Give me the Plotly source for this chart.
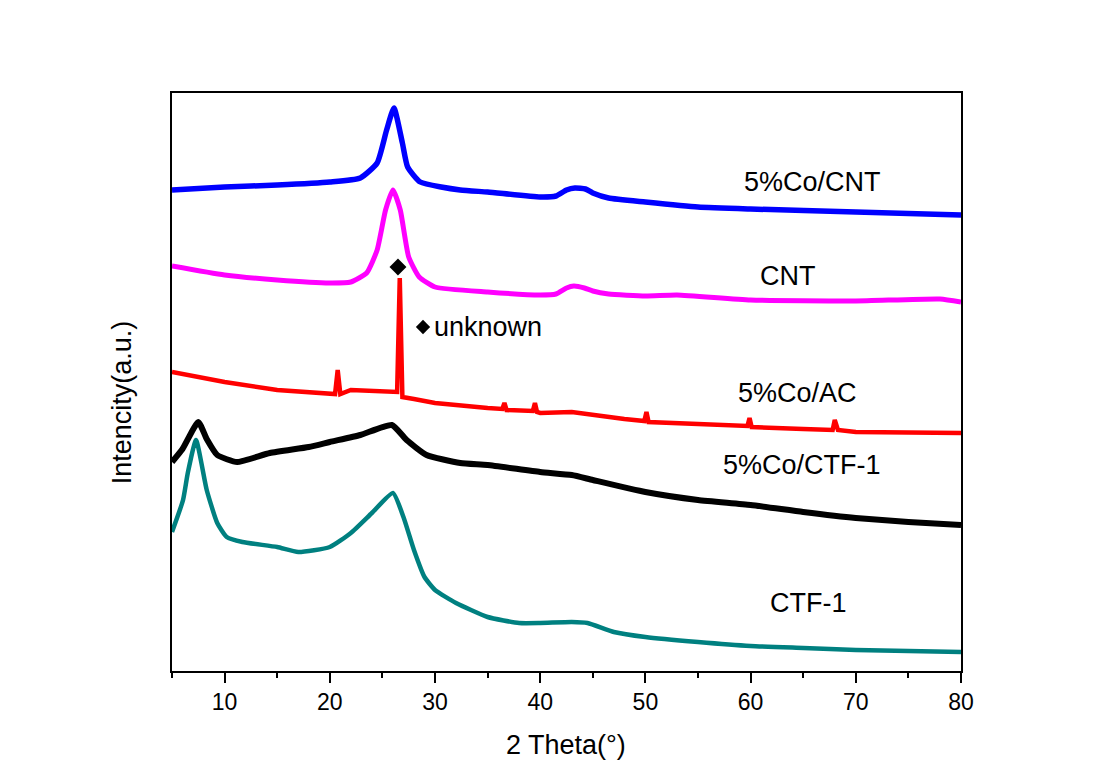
import plotly.graph_objects as go

# ---- data (2θ in degrees, intensity in a.u. with vertical offsets) ----
co_cnt_theta = [5, 10, 15, 20, 22.9, 24.5, 25.4, 26.1, 26.9, 27.4, 28.6, 32.4, 35, 40, 41.5, 42.5, 43.3, 44.3, 45, 46.5, 50, 55, 60, 70, 80]
co_cnt_int = [481, 484, 486, 489, 493, 508, 541, 563, 528, 504, 489, 481, 479, 474, 475, 481, 483, 482, 478, 473, 469, 464, 462, 459, 456]

cnt_theta = [5, 10, 15, 20, 22, 23.5, 24.5, 25.3, 26, 26.7, 27.5, 28.5, 30, 35, 40, 41.5, 42.5, 43.2, 44.2, 45, 46.5, 50, 53, 60, 70, 78, 80]
cnt_int = [405, 396, 391, 388, 389, 398, 421, 461, 481, 461, 414, 394, 384, 379, 376, 377, 383, 385, 383, 380, 377, 375, 376, 371, 370, 372, 369]

co_ac_theta = [5, 8, 10, 15, 20, 20.5, 20.75, 21.0, 22, 24, 26.4, 26.65, 26.9, 28, 30, 35, 36.4, 36.6, 36.8,
               39.3, 39.5, 39.7, 40, 43, 45, 48, 49.9, 50.1, 50.3, 55, 59.7, 59.9, 60.1, 65, 67.8, 68.0, 68.3, 70, 75, 80]
co_ac_int = [299, 293, 289, 281, 278, 277, 301, 277, 281, 280, 279, 393, 274, 272, 268, 263, 262, 268, 261,
             260, 268, 259, 258, 259, 256, 252, 250, 259, 249, 247, 245, 253, 244, 242, 241, 251, 241, 239, 238, 238]

co_ctf_theta = [5, 6, 7.5, 8.3, 9.3, 11.2, 14.3, 18, 20, 22.9, 25.9, 27.3, 29.2, 32.4, 35, 40, 43, 45, 50, 55, 60, 65, 70, 75, 80]
co_ctf_int = [209, 222, 249, 232, 216, 209, 218, 224, 229, 236, 246, 231, 216, 208, 206, 199, 196, 191, 179, 171, 166, 159, 153, 149, 146]

ctf_theta = [5, 6.05, 6.5, 7.28, 8.3, 9.3, 10.2, 11.7, 15, 17, 20, 22, 24, 26, 27, 28, 29, 30, 32, 35, 38, 40, 43, 44.5, 47, 50, 55, 60, 65, 70, 80]
ctf_int = [139, 171, 198, 231, 181, 148, 134, 129, 124, 119, 124, 138, 158, 178, 154, 121, 94, 81, 68, 54, 48, 48, 49, 48, 39, 34, 29, 25, 23, 21, 19]

series_names = ["5%Co/CNT", "CNT", "5%Co/AC", "5%Co/CTF-1", "CTF-1"]
label_theta = [65.9, 63.6, 64.5, 64.9, 65.5]
label_int = [489, 395, 278, 206, 68]

marker_theta = [26.48]
marker_int = [404]
legend_marker_theta = [28.86]
legend_marker_int = [344]
legend_text = "unknown"

x_ticks = [10, 20, 30, 40, 50, 60, 70, 80]

FONT = "Liberation Sans, Arial, sans-serif"

fig = go.Figure()

traces = [
    (co_cnt_theta, co_cnt_int, "#0000FF", 5.5, "spline"),
    (cnt_theta, cnt_int, "#FF00FF", 5.0, "spline"),
    (co_ac_theta, co_ac_int, "#FF0000", 4.5, "linear"),
    (co_ctf_theta, co_ctf_int, "#000000", 6.0, "spline"),
    (ctf_theta, ctf_int, "#008080", 4.5, "spline"),
]
for (xs, ys, col, w, shp), name in zip(traces, series_names):
    fig.add_trace(go.Scatter(x=xs, y=ys, mode="lines", name=name,
                             line=dict(color=col, width=w, shape=shp, smoothing=0.5)))

fig.add_trace(go.Scatter(x=marker_theta, y=marker_int, mode="markers",
                         marker=dict(symbol="diamond", size=13, color="black"), showlegend=False))
fig.add_trace(go.Scatter(x=legend_marker_theta, y=legend_marker_int, mode="markers",
                         marker=dict(symbol="diamond", size=11, color="black"), showlegend=False))

for name, lx, ly in zip(series_names, label_theta, label_int):
    fig.add_annotation(x=lx, y=ly, text=name, showarrow=False, xanchor="center", yanchor="middle",
                       font=dict(family=FONT, size=27, color="black"))

fig.add_annotation(x=legend_marker_theta[0] + 0.9, y=legend_marker_int[0], text=legend_text,
                   showarrow=False, xanchor="left", yanchor="middle",
                   font=dict(family=FONT, size=27, color="black"))

# axis titles
fig.add_annotation(xref="paper", yref="paper", x=0.4994, y=-0.128, text="2 Theta(°)",
                   xanchor="center", yanchor="middle",
                   showarrow=False, font=dict(family=FONT, size=27, color="black"))
fig.add_annotation(xref="paper", yref="paper", x=-0.0634, y=0.465, text="Intencity(a.u.)",
                   xanchor="center", yanchor="middle",
                   textangle=-90, showarrow=False, font=dict(family=FONT, size=27, color="black"))

fig.update_layout(
    width=1100, height=772,
    margin=dict(l=172, r=139, t=93, b=101),
    paper_bgcolor="white", plot_bgcolor="white",
    showlegend=False,
    font=dict(family=FONT, color="black"),
)
fig.update_xaxes(range=[5, 80], tickvals=x_ticks, ticks="outside", ticklen=10, tickwidth=1.5,
                 tickcolor="black", showline=True, linecolor="black", linewidth=1.5, mirror=True,
                 showgrid=False, zeroline=False, tickfont=dict(family=FONT, size=23, color="black"),
                 minor=dict(dtick=5, tick0=5, ticks="outside", ticklen=5, tickcolor="black", tickwidth=1.5))
fig.update_yaxes(range=[0, 578], showticklabels=False, ticks="", showline=True, linecolor="black",
                 linewidth=1.5, mirror=True, showgrid=False, zeroline=False)

fig.write_html("out.html")
